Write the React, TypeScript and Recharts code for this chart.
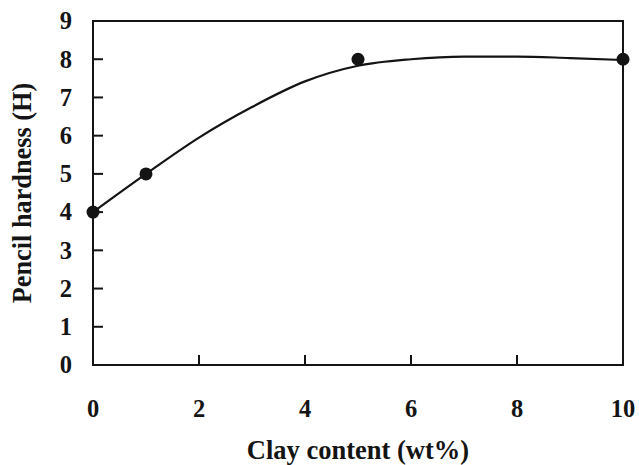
import React from 'react';
import {
  ComposedChart,
  Line,
  Scatter,
  XAxis,
  YAxis,
  ReferenceArea,
} from 'recharts';

// Measured hardness at each clay loading
const clayContent = [0, 1, 5, 10];
const hardness = [4, 5, 8, 8];

// Trend curve drawn through the measurements
const trendX = [0, 1, 2, 3, 4, 5, 6, 7, 8, 9, 10];
const trendY = [4.0, 5.0, 5.95, 6.75, 7.42, 7.83, 8.0, 8.07, 8.07, 8.03, 7.98];

const xTicks = [0, 2, 4, 6, 8, 10];
const yTicks = [0, 1, 2, 3, 4, 5, 6, 7, 8, 9];

const points = clayContent.map((x, i) => ({ x, y: hardness[i] }));
const trend = trendX.map((x, i) => ({ x, y: trendY[i] }));

const FONT = '"Liberation Serif", "Times New Roman", serif';
const INK = '#141414';
const TICK_FONT_SIZE = 24.5;

const XTick = (props: any) => {
  const { x, y, payload } = props;
  return (
    <text
      x={x}
      y={y}
      dy="0.71em"
      textAnchor="middle"
      fontFamily={FONT}
      fontWeight={700}
      fontSize={TICK_FONT_SIZE}
      fill={INK}
    >
      {payload.value}
    </text>
  );
};

const YTick = (props: any) => {
  const { x, y, payload } = props;
  return (
    <text
      x={x}
      y={y}
      dy="0.34em"
      textAnchor="end"
      fontFamily={FONT}
      fontWeight={700}
      fontSize={TICK_FONT_SIZE}
      fill={INK}
    >
      {payload.value}
    </text>
  );
};

export default function App() {
  return (
    <div style={{ position: 'absolute', left: 0, top: 0, width: 639, height: 465, background: '#fff' }}>
      <ComposedChart
        width={639}
        height={465}
        margin={{ top: 21, right: 16, bottom: 0, left: 0 }}
      >
        <XAxis
          type="number"
          dataKey="x"
          domain={[0, 10]}
          ticks={xTicks}
          height={100}
          tickSize={-10}
          tickMargin={45}
          stroke={INK}
          strokeWidth={2}
          tick={<XTick />}
          label={{
            value: 'Clay content (wt%)',
            position: 'insideBottom',
            offset: 6,
            style: { fontFamily: FONT, fontWeight: 700, fontSize: 26.5, fill: INK },
          }}
        />
        <YAxis
          type="number"
          dataKey="y"
          domain={[0, 9]}
          ticks={yTicks}
          width={93}
          tickSize={-10}
          tickMargin={31}
          stroke={INK}
          strokeWidth={2}
          tick={<YTick />}
          label={{
            value: 'Pencil hardness (H)',
            angle: -90,
            position: 'insideLeft',
            offset: 22,
            style: {
              fontFamily: FONT,
              fontWeight: 700,
              fontSize: 26.3,
              fill: INK,
              textAnchor: 'middle',
            },
          }}
        />
        <ReferenceArea
          x1={0}
          x2={10}
          y1={0}
          y2={9}
          fill="none"
          stroke={INK}
          strokeWidth={2}
        />
        <Line
          data={trend}
          dataKey="y"
          type="monotone"
          stroke={INK}
          strokeWidth={2.2}
          dot={false}
          activeDot={false}
          isAnimationActive={false}
        />
        <Scatter
          data={points}
          dataKey="y"
          fill={INK}
          shape={(props: any) => <circle cx={props.cx} cy={props.cy} r={6.5} fill={INK} />}
          isAnimationActive={false}
        />
      </ComposedChart>
    </div>
  );
}
